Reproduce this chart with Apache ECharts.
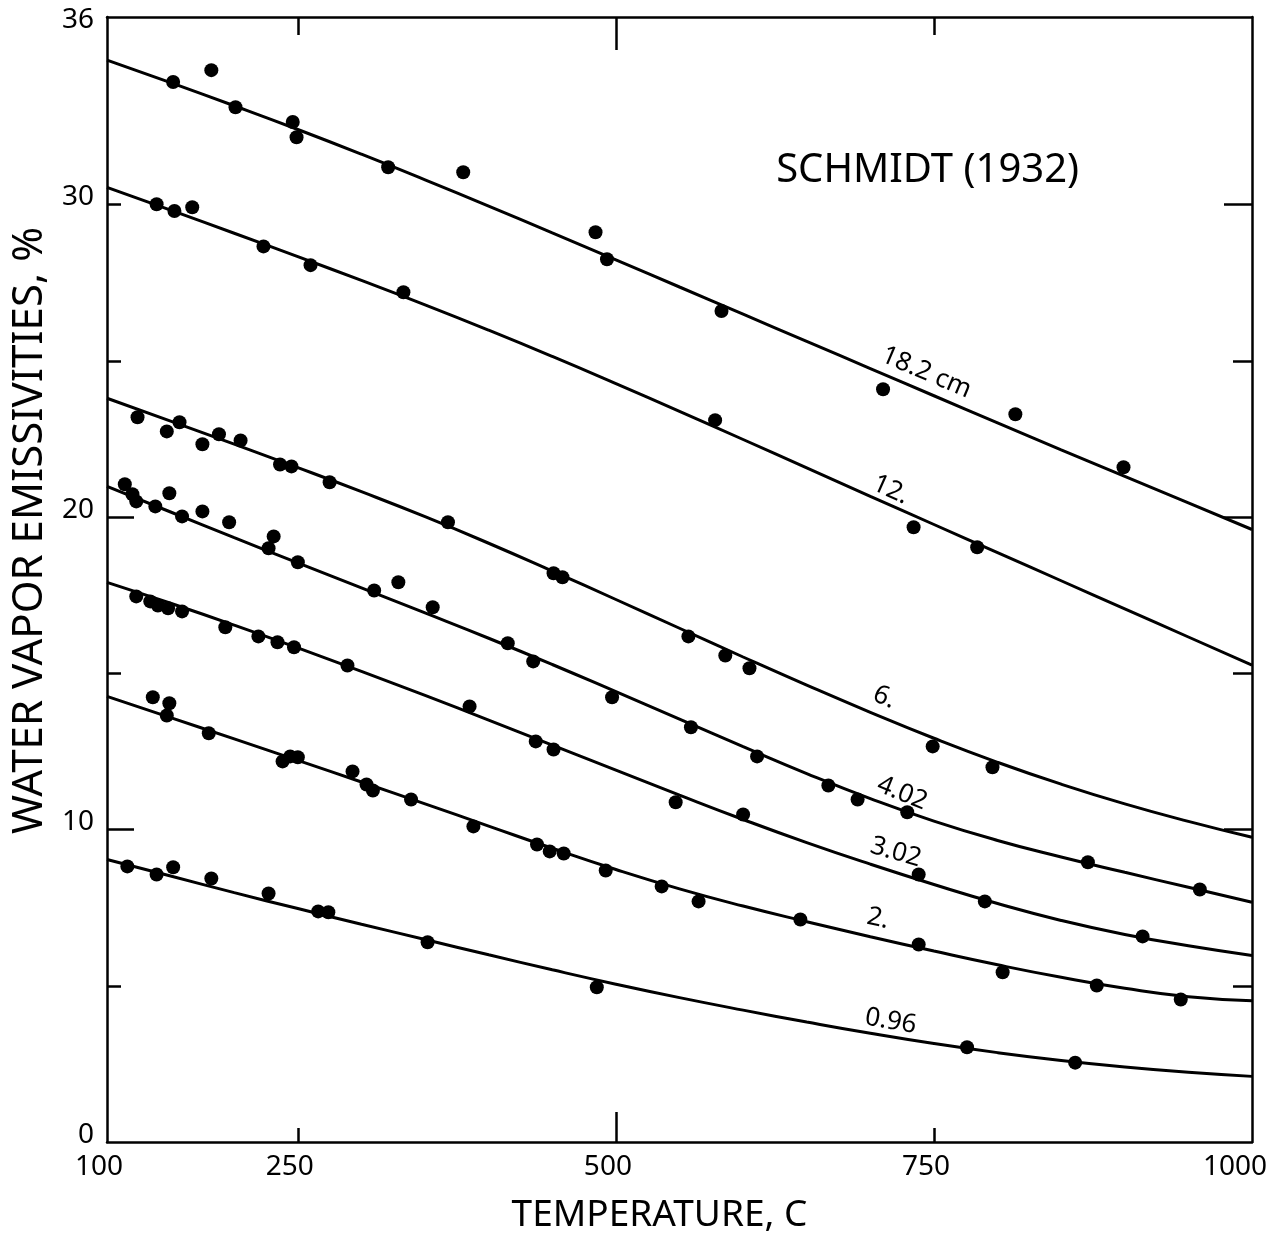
<!DOCTYPE html>
<html><head><meta charset="utf-8">
<script src="https://cdn.jsdelivr.net/npm/echarts@6/dist/echarts.min.js"></script>
<style>html,body{margin:0;padding:0;background:#fff}#c{width:1275px;height:1244px}</style>
</head><body><div id="c"></div>
<script>
// ---- data ----
const temps = [100,150,200,250,300,350,400,450,500,550,600,650,700,750,800,850,900,950,1000];
const curve182 = [34.62,33.90,33.16,32.40,31.61,30.79,29.95,29.09,28.23,27.36,26.49,25.62,24.75,23.88,23.01,22.15,21.30,20.45,19.60];
const curve12  = [30.55,29.82,29.08,28.33,27.57,26.79,25.98,25.14,24.27,23.38,22.48,21.57,20.66,19.76,18.86,17.96,17.06,16.16,15.26];
const curve6   = [23.80,23.07,22.33,21.58,20.81,20.01,19.16,18.27,17.36,16.44,15.52,14.62,13.75,12.92,12.15,11.45,10.82,10.26,9.75];
const curve402 = [20.98,20.16,19.34,18.53,17.73,16.93,16.12,15.28,14.41,13.53,12.65,11.79,10.99,10.27,9.65,9.12,8.63,8.15,7.67];
const curve302 = [17.91,17.24,16.54,15.81,15.06,14.29,13.50,12.70,11.90,11.10,10.32,9.58,8.89,8.24,7.63,7.09,6.64,6.28,5.97];
const curve2   = [14.26,13.58,12.90,12.21,11.52,10.82,10.11,9.40,8.72,8.10,7.55,7.05,6.57,6.11,5.67,5.27,4.92,4.65,4.52];
const curve096 = [9.04,8.51,7.98,7.47,6.97,6.48,5.99,5.51,5.05,4.62,4.22,3.84,3.48,3.15,2.86,2.61,2.40,2.23,2.10];

const pts182 = [[152,33.92],[182,34.30],[201,33.11],[246,32.64],[249,32.15],[321,31.19],[380,31.03],[484,29.11],[493,28.25],[583,26.59],[710,24.09],[814,23.29],[899,21.59]];
const pts12  = [[139,30.01],[153,29.79],[167,29.91],[223,28.66],[260,28.06],[333,27.19],[578,23.10],[734,19.67],[784,19.03]];
const pts6   = [[124,23.19],[147,22.74],[157,23.03],[175,22.33],[188,22.65],[205,22.45],[236,21.68],[245,21.62],[275,21.11],[368,19.83],[451,18.20],[458,18.07],[557,16.18],[586,15.57],[605,15.16],[749,12.66],[796,11.99]];
const pts402 = [[114,21.05],[120,20.73],[123,20.50],[138,20.34],[149,20.76],[159,20.02],[175,20.18],[196,19.83],[231,19.38],[227,19.00],[250,18.55],[310,17.65],[329,17.91],[356,17.11],[415,15.96],[435,15.38],[497,14.23],[559,13.27],[611,12.34],[667,11.41],[690,10.96],[729,10.55],[871,8.95],[959,8.08]];
const pts302 = [[123,17.46],[134,17.30],[140,17.17],[148,17.08],[159,16.98],[193,16.47],[219,16.18],[234,15.99],[247,15.83],[289,15.25],[385,13.94],[437,12.82],[451,12.56],[547,10.87],[600,10.48],[738,8.56],[790,7.70],[914,6.58]];
const pts2   = [[136,14.23],[149,14.04],[147,13.65],[180,13.08],[238,12.18],[244,12.34],[250,12.31],[293,11.86],[304,11.44],[309,11.25],[339,10.96],[388,10.10],[438,9.52],[448,9.30],[459,9.23],[492,8.69],[536,8.18],[565,7.70],[645,7.12],[738,6.32],[804,5.43],[878,5.01],[944,4.56]];
const pts096 = [[116,8.82],[139,8.56],[152,8.79],[182,8.43],[227,7.95],[266,7.38],[274,7.35],[352,6.39],[485,4.95],[776,3.03],[861,2.54]];

const curveNames  = ['18.2 cm','12.','6.','4.02','3.02','2.','0.96'];
const curveLabelAt = [[744,24.62],[716,20.87],[711,14.23],[725,11.16],[720,9.27],[706,7.15],[716,3.86]];
const curveLabelAngle = [23,24,22,22,16,12,10];

const xLabelValues = [100,250,500,750,1000];
const yLabelValues = [0,10,20,30,36];
const xTitle = 'TEMPERATURE, C';
const yTitle = 'WATER VAPOR EMISSIVITIES, %';
const noteText = 'SCHMIDT (1932)';
const noteAt = [745,31.10];

// ---- chart ----
const FF = '"Noto Sans", "DejaVu Sans", sans-serif';
const curves = [curve182,curve12,curve6,curve402,curve302,curve2,curve096];
const points = [pts182,pts12,pts6,pts402,pts302,pts2,pts096];
const chart = echarts.init(document.getElementById('c'), null, {renderer:'canvas'});
const gridBox = {left:107, right:23, top:17, bottom:102};
const lineSt = {color:'#000', width:2.5};

function xAx(gi, pos, showLine, ticks, len, extra){
  return Object.assign({gridIndex:gi, type:'value', position:pos, min:100, max:1000, interval:50,
    axisLine:{show:showLine, onZero:false, lineStyle:lineSt},
    axisTick:{show:true, inside:true, length:len, customValues:ticks, lineStyle:lineSt},
    axisLabel:{show:false}, splitLine:{show:false}}, extra||{});
}
function yAx(gi, pos, showLine, ticks, len, extra){
  return Object.assign({gridIndex:gi, type:'value', position:pos, min:0, max:36, interval:2,
    axisLine:{show:showLine, onZero:false, lineStyle:lineSt},
    axisTick:{show:true, inside:true, length:len, customValues:ticks, lineStyle:lineSt},
    axisLabel:{show:false}, splitLine:{show:false}}, extra||{});
}

const series = [];
curves.forEach((c,i)=>{
  series.push({type:'line', name:curveNames[i], xAxisIndex:0, yAxisIndex:0,
    data: temps.map((t,k)=>[t,c[k]]), showSymbol:false, smooth:0.5,
    lineStyle:{color:'#000', width:3}, silent:true});
  series.push({type:'scatter', name:curveNames[i]+' data', xAxisIndex:0, yAxisIndex:0,
    data: points[i], symbol:'circle', symbolSize:14, itemStyle:{color:'#000', opacity:1}, silent:true});
});

const lab = {fontSize:28, fontFamily:FF, color:'#000'};
chart.setOption({
  animation:false,
  backgroundColor:'#fff',
  grid:[gridBox,gridBox,gridBox,gridBox],
  xAxis:[
    xAx(0,'bottom',true,[500],30,{
      axisLabel:Object.assign({show:true, customValues:xLabelValues, margin:11,
        formatter:v=> v===1000 ? '{b|1000}' : '{a|'+v+'}',
        rich:{a:Object.assign({padding:[0,16,0,0]},lab), b:Object.assign({padding:[0,34,0,0]},lab)}}, lab),
      name:xTitle, nameLocation:'middle', nameGap:55,
      nameTextStyle:{fontSize:37,fontFamily:FF,color:'#000',padding:[0,40,0,0]}}),
    xAx(1,'bottom',false,[250,750],14),
    xAx(2,'top',true,[500],33),
    xAx(3,'top',false,[250,750],18)
  ],
  yAxis:[
    yAx(0,'left',true,[10,20],27,{
      axisLabel:Object.assign({show:true, customValues:yLabelValues, margin:13,
        formatter:v=> v===36 ? '{t|36}' : '{a|'+v+'}',
        rich:{a:Object.assign({padding:[0,0,14,0]},lab), t:Object.assign({padding:[6,0,0,0]},lab)}}, lab),
      name:yTitle, nameLocation:'middle', nameGap:54,
      nameTextStyle:{fontSize:42,fontFamily:FF,color:'#000',padding:[0,0,0,98]}}),
    yAx(1,'left',false,[5,15,25,30],14),
    yAx(2,'right',true,[10,20,30],28),
    yAx(3,'right',false,[5,15,25],19)
  ],
  series:series
});

const gfx = curveNames.map((t,i)=>{
  const p = chart.convertToPixel({gridIndex:0}, curveLabelAt[i]);
  return {type:'text', x:p[0], y:p[1], rotation:-curveLabelAngle[i]*Math.PI/180, silent:true,
    style:{text:t, fontSize:26, fontFamily:FF, fill:'#000', align:'center', verticalAlign:'middle'}};
});
const np = chart.convertToPixel({gridIndex:0}, noteAt);
gfx.push({type:'text', x:np[0], y:np[1], silent:true,
  style:{text:noteText, fontSize:40, fontFamily:FF, fill:'#000', align:'center', verticalAlign:'middle'}});
chart.setOption({graphic:gfx});
</script></body></html>
